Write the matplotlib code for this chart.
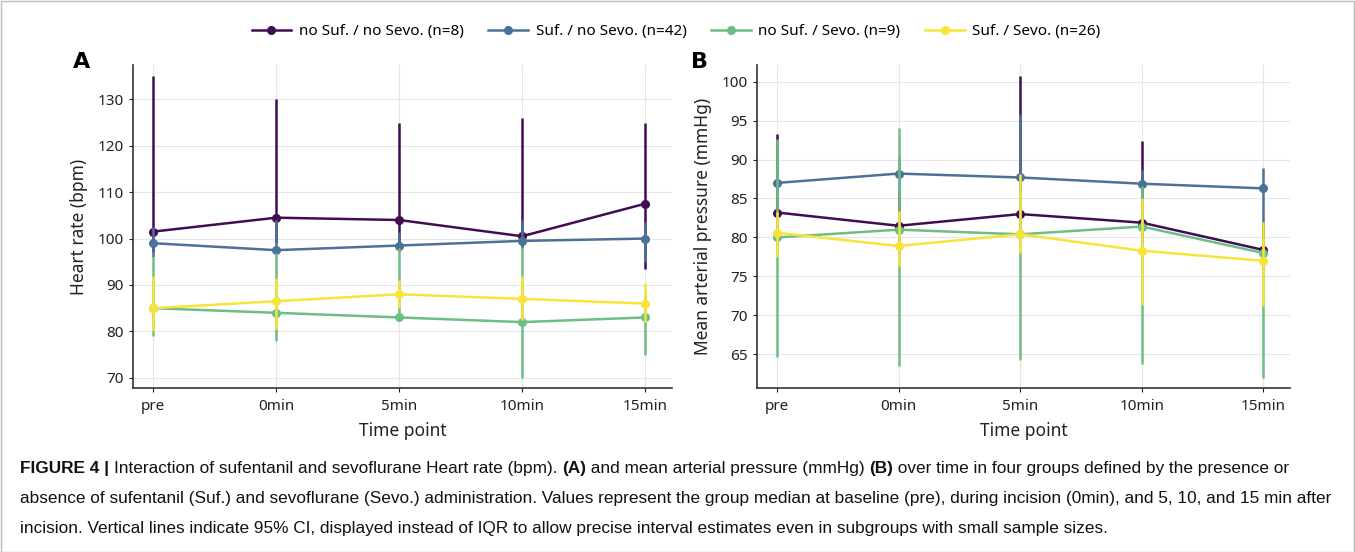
import matplotlib
matplotlib.use("Agg")
import matplotlib.pyplot as plt
import matplotlib.transforms as mtransforms
from matplotlib.lines import Line2D
from matplotlib.patches import Rectangle
import numpy as np

timepoints = ["pre", "0min", "5min", "10min", "15min"]
groups = ["no Suf. / no Sevo. (n=8)", "Suf. / no Sevo. (n=42)",
          "no Suf. / Sevo. (n=9)", "Suf. / Sevo. (n=26)"]
colors = ["#420c52", "#4b7296", "#6cbf84", "#f7e43a"]

# Heart rate (bpm): median and 95% CI per group
hr_median = [
    [101.5, 104.5, 104.0, 100.5, 107.5],
    [99.0, 97.5, 98.5, 99.5, 100.0],
    [85.0, 84.0, 83.0, 82.0, 83.0],
    [85.0, 86.5, 88.0, 87.0, 86.0],
]
hr_low = [
    [97.0, 99.0, 99.0, 98.0, 93.5],
    [96.0, 96.8, 97.4, 98.0, 95.0],
    [79.0, 78.0, 82.5, 70.0, 75.0],
    [80.0, 80.5, 85.0, 82.5, 82.0],
]
hr_high = [
    [135.0, 130.0, 125.0, 126.0, 125.0],
    [102.5, 104.0, 101.5, 104.0, 103.5],
    [96.0, 96.8, 98.0, 98.1, 88.0],
    [92.0, 91.5, 91.0, 92.0, 90.4],
]

# Mean arterial pressure (mmHg)
map_median = [
    [83.2, 81.5, 83.0, 81.9, 78.4],
    [87.0, 88.2, 87.7, 86.9, 86.3],
    [80.0, 81.0, 80.4, 81.4, 78.0],
    [80.6, 78.9, 80.4, 78.3, 77.0],
]
map_low = [
    [79.0, 78.0, 80.0, 79.0, 76.0],
    [84.5, 85.5, 84.0, 85.0, 82.0],
    [64.7, 63.5, 64.3, 63.7, 62.0],
    [77.5, 76.3, 78.0, 71.3, 71.2],
]
map_high = [
    [93.3, 86.0, 100.7, 92.4, 82.0],
    [89.5, 90.5, 95.9, 88.7, 88.9],
    [92.7, 94.0, 86.0, 86.6, 80.0],
    [83.3, 83.4, 88.2, 85.0, 82.0],
]

FONT = ["Noto Sans", "DejaVu Sans"]
plt.rcParams["font.family"] = FONT

fig = plt.figure(figsize=(13.55, 5.52), dpi=100)
W, H = 1355, 552


def px_axes(x0, y0, x1, y1):
    # pixel box (top-left origin) -> figure fraction
    return fig.add_axes([x0 / W, 1 - y1 / H, (x1 - x0) / W, (y1 - y0) / H])


def draw_panel(ax, med, lo, hi, ylim, yticks, ylabel):
    x = np.arange(len(timepoints))
    for i in range(len(groups)):
        z = 3 + i
        ax.vlines(x, lo[i], hi[i], color=colors[i], lw=1.8, zorder=z)
        ax.plot(x, med[i], color=colors[i], lw=1.8, marker="o", ms=5.5,
                zorder=z + 0.5)
    ax.set_xlim(-0.165, 4.22)
    ax.set_ylim(*ylim)
    ax.set_xticks(x)
    ax.set_xticklabels(timepoints)
    ax.set_yticks(yticks)
    ax.grid(True, color="#e6e6e6", lw=0.8, zorder=0)
    ax.set_axisbelow(True)
    for s in ["top", "right"]:
        ax.spines[s].set_visible(False)
    for s in ["left", "bottom"]:
        ax.spines[s].set_color("#333333")
        ax.spines[s].set_linewidth(1.2)
    ax.tick_params(axis="both", labelsize=11, colors="#222222", length=3,
                   width=0.8)
    ax.tick_params(axis="x", pad=5)
    ax.set_xlabel("Time point", fontsize=12.5, color="#222222", labelpad=6)
    ax.set_ylabel(ylabel, fontsize=12.5, color="#222222", labelpad=7)


axA = px_axes(133, 65, 672, 388)
draw_panel(axA, hr_median, hr_low, hr_high, (67.8, 137.4),
           [70, 80, 90, 100, 110, 120, 130], "Heart rate (bpm)")
axB = px_axes(757, 65, 1290, 388)
draw_panel(axB, map_median, map_low, map_high, (60.67, 102.14),
           [65, 70, 75, 80, 85, 90, 95, 100], "Mean arterial pressure (mmHg)")

fig.text(73 / W, 1 - 62 / H, "A", fontsize=16, fontweight="bold",
         family="DejaVu Sans", va="center")
fig.text(691 / W, 1 - 62 / H, "B", fontsize=16, fontweight="bold",
         family="DejaVu Sans", va="center")

handles = [Line2D([], [], color=c, lw=1.8, marker="o", ms=5.5) for c in colors]
fig.legend(handles, groups, loc="center", bbox_to_anchor=(676 / W, 1 - 32 / H),
           ncol=4, frameon=False, fontsize=11, handlelength=2.6,
           columnspacing=1.6, handletextpad=0.5)

# caption with mixed bold pieces
renderer = fig.canvas.get_renderer()
ident = mtransforms.IdentityTransform()
caption = [
    [("FIGURE 4 | ", "bold"),
     ("Interaction of sufentanil and sevoflurane Heart rate (bpm). ", "normal"),
     ("(A)", "bold"),
     (" and mean arterial pressure (mmHg) ", "normal"),
     ("(B)", "bold"),
     (" over time in four groups defined by the presence or", "normal")],
    [("absence of sufentanil (Suf.) and sevoflurane (Sevo.) administration. Values represent the group median at baseline (pre), during incision (0min), and 5, 10, and 15 min after", "normal")],
    [("incision. Vertical lines indicate 95% CI, displayed instead of IQR to allow precise interval estimates even in subgroups with small sample sizes.", "normal")],
]
cap_font = ["Liberation Sans Narrow", "Liberation Sans", "DejaVu Sans"]
for k, line in enumerate(caption):
    xpos = 20
    ypos = H - (469 + 30 * k)
    for txt, weight in line:
        t = fig.text(xpos, ypos, txt, transform=ident, fontsize=12.4,
                     fontweight=weight, family=cap_font, va="center",
                     ha="left", color="#111111")
        bb = t.get_window_extent(renderer)
        xpos = bb.x1

fig.patches.append(Rectangle((0.5, 0.5), W - 1.5, H - 1.5, transform=ident,
                             fill=False, edgecolor="#bbbbbb", lw=1.0))

fig.savefig("out.png", dpi=100)
